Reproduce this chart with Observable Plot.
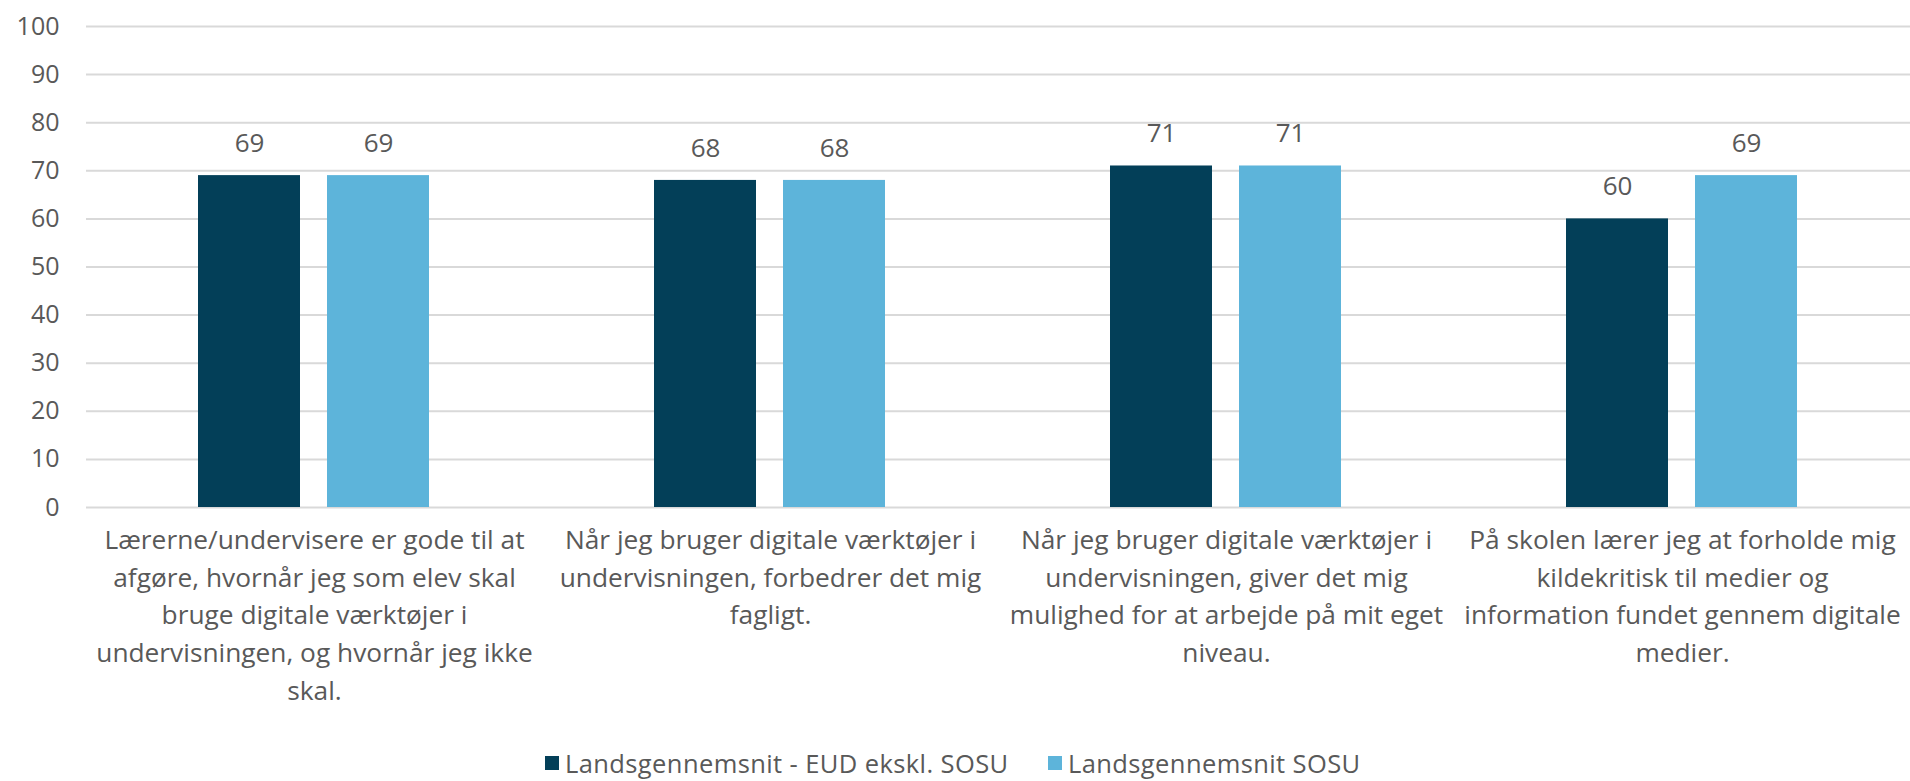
<!DOCTYPE html>
<html>
<head>
<meta charset="utf-8">
<script src="https://cdn.jsdelivr.net/npm/d3@7"></script>
<script src="https://cdn.jsdelivr.net/npm/@observablehq/plot@0.6"></script>
<style>
  html, body { margin: 0; padding: 0; background: #fff; overflow: hidden; }
  #chart { position: relative; width: 1910px; height: 781px; }
  .item { position: absolute; top: 751px; height: 24px; display: flex; align-items: center;
    font-family: "Open Sans", sans-serif; font-size: 25.5px; line-height: 24px; letter-spacing: 0.4px; color: #595959; white-space: nowrap; }
  .sw { width: 14px; height: 14px; margin-right: 6px; flex: none; }
</style>
</head>
<body>
<div id="chart"></div>
<script>
const categories = [
  "Lærerne/undervisere er gode til at\nafgøre, hvornår jeg som elev skal\nbruge digitale værktøjer i\nundervisningen, og hvornår jeg ikke\nskal.",
  "Når jeg bruger digitale værktøjer i\nundervisningen, forbedrer det mig\nfagligt.",
  "Når jeg bruger digitale værktøjer i\nundervisningen, giver det mig\nmulighed for at arbejde på mit eget\nniveau.",
  "På skolen lærer jeg at forholde mig\nkildekritisk til medier og\ninformation fundet gennem digitale\nmedier."
];
const seriesNames = ["Landsgennemsnit - EUD ekskl. SOSU", "Landsgennemsnit SOSU"];
const eudValues = [69, 68, 71, 60];
const sosuValues = [69, 68, 71, 69];
const yTicks = [0, 10, 20, 30, 40, 50, 60, 70, 80, 90, 100];
const seriesColors = ["#033F58", "#5DB4DA"];

const data = [];
categories.forEach((c, i) => {
  data.push({category: c, series: seriesNames[0], value: eudValues[i]});
  data.push({category: c, series: seriesNames[1], value: sosuValues[i]});
});

const font = "'Open Sans', sans-serif";

const chart = Plot.plot({
  width: 1910,
  height: 745,
  marginTop: 26,
  marginBottom: 238,
  marginLeft: 85,
  marginRight: 0,
  fx: {domain: categories, padding: 0, label: null},
  x: {domain: seriesNames, paddingInner: 0.208, paddingOuter: 0.858, axis: null},
  y: {domain: [0, 100], axis: null},
  color: {domain: seriesNames, range: seriesColors},
  marks: [
    Plot.gridY(yTicks, {stroke: "#d9d9d9", strokeOpacity: 1, strokeWidth: 2}),
    Plot.axisY(yTicks, {tickSize: 0, tickPadding: 27, fontSize: 25, fill: "#595959", fontFamily: font, label: null}),
    Plot.axisFx({anchor: "bottom", tickSize: 0, tickPadding: 15, fontSize: 26.3, lineHeight: 1.43, fill: "#595959", fontFamily: font, label: null}),
    Plot.barY(data, {fx: "category", x: "series", y: "value", fill: "series"}),
    Plot.text(data, {fx: "category", x: "series", y: "value", text: d => String(d.value), dy: -32, fontSize: 26, fill: "#595959", fontFamily: font})
  ]
});
const root = document.getElementById("chart");
root.appendChild(chart);

const legendLeft = [545, 1048];
seriesNames.forEach((name, i) => {
  const item = document.createElement("div");
  item.className = "item";
  item.style.left = legendLeft[i] + "px";
  const sw = document.createElement("span");
  sw.className = "sw";
  sw.style.background = seriesColors[i];
  const t = document.createElement("span");
  t.textContent = name;
  item.appendChild(sw); item.appendChild(t);
  root.appendChild(item);
});
</script>
</body>
</html>
